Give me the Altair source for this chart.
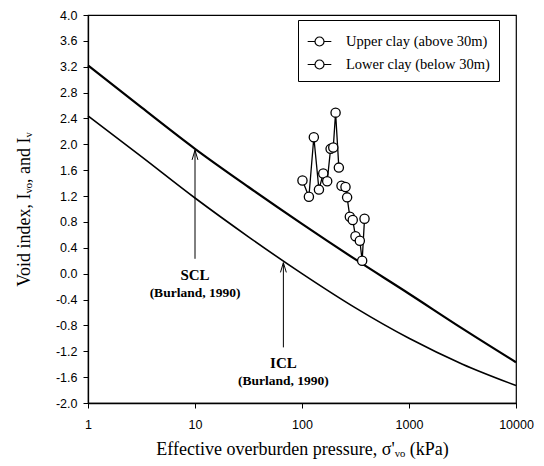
import altair as alt
import pandas as pd

# ---- data ----
upper_sigma = [101, 116, 129, 144, 158, 172, 185, 196, 206, 221]
upper_iv = [1.44, 1.19, 2.11, 1.30, 1.55, 1.43, 1.93, 1.95, 2.49, 1.64]
lower_sigma = [234, 255, 264, 280, 298, 316, 347, 365, 384]
lower_iv = [1.36, 1.34, 1.18, 0.88, 0.83, 0.58, 0.51, 0.20, 0.85]

curve_sigma = [1, 3.16, 10, 31.6, 100, 316, 1000, 3162, 10000]
scl_iv = [3.22, 2.57, 1.93, 1.34, 0.77, 0.22, -0.31, -0.85, -1.37]
icl_iv = [2.44, 1.81, 1.17, 0.57, 0.0, -0.53, -1.0, -1.40, -1.73]

series_names = ["Upper clay (above 30m)", "Lower clay (below 30m)"]

arrow_sigma = [10, 67]
arrow_from = [0.23, -1.14]
arrow_tip = [1.91, 0.17]

label_sigma = [10, 10, 67, 67]
label_iv = [-0.02, -0.30, -1.38, -1.66]
label_text = ["SCL", "(Burland, 1990)", "ICL", "(Burland, 1990)"]
label_size = [15, 13.5, 15, 13.5]

x_ticks = [1, 10, 100, 1000, 10000]
y_ticks = [-2.0, -1.6, -1.2, -0.8, -0.4, 0.0, 0.4, 0.8, 1.2, 1.6, 2.0, 2.4, 2.8, 3.2, 3.6, 4.0]

# ---- tables ----
pts = pd.DataFrame({
    "sigma": upper_sigma + lower_sigma,
    "iv": upper_iv + lower_iv,
    "series": [series_names[0]] * len(upper_sigma) + [series_names[1]] * len(lower_sigma),
})
curves = pd.DataFrame({
    "sigma": curve_sigma * 2,
    "iv": scl_iv + icl_iv,
    "curve": ["SCL"] * len(curve_sigma) + ["ICL"] * len(curve_sigma),
})
arrows = pd.DataFrame({"sigma": arrow_sigma, "y1": arrow_from, "y2": arrow_tip})
labels = pd.DataFrame({"sigma": label_sigma, "iv": label_iv, "text": label_text, "size": label_size})

xscale = alt.Scale(type="log", domain=[1, 10000], nice=False)
yscale = alt.Scale(domain=[-2, 4], nice=False, zero=False)

xaxis = alt.Axis(values=x_ticks, format="d", title="Effective overburden pressure, σ'ᵥₒ (kPa)",
                 grid=False, tickSize=5, labelPadding=10, titlePadding=10, tickCount=20,
                 labelOverlap=False, labelFlush=False)
yaxis = alt.Axis(values=y_ticks, title="Void index, Iᵥₒ, and Iᵥ", grid=False, tickSize=5,
                 labelPadding=6, titlePadding=22, labelOverlap=False, labelFlush=False,
                 labelBound=False, tickCount=40,
                 labelExpr="replace(format(datum.value, '.1f'), '−', '-')")

X = alt.X("sigma:Q", scale=xscale, axis=xaxis)
Y = alt.Y("iv:Q", scale=yscale, axis=yaxis)

scl_line = alt.Chart(curves).transform_filter(alt.datum.curve == "SCL").mark_line(
    color="black", strokeWidth=2.2, interpolate="monotone").encode(x=X, y=Y)
icl_line = alt.Chart(curves).transform_filter(alt.datum.curve == "ICL").mark_line(
    color="black", strokeWidth=1.6, interpolate="monotone").encode(x=X, y=Y)

data_lines = alt.Chart(pts).mark_line(color="black", strokeWidth=1.3).encode(
    x=X, y=Y, detail="series:N", order="sigma:Q")

legend_path = ("M-1,0L-0.38,0M0.38,0L1,0"
               "M-0.38,0A0.38,0.38 0 1,1 0.38,0A0.38,0.38 0 1,1 -0.38,0Z")

data_pts = alt.Chart(pts).mark_point(
    shape="circle", filled=False, fill="white", fillOpacity=1, opacity=1,
    size=85, strokeWidth=1.3).encode(
    x=X, y=Y,
    color=alt.Color("series:N", scale=alt.Scale(domain=series_names, range=["black", "black"]),
                    legend=alt.Legend(title=None, orient="none", legendX=210, legendY=5,
                                      padding=9, rowPadding=3, strokeColor="black",
                                      fillColor="white", symbolType=legend_path,
                                      symbolSize=560, symbolStrokeWidth=1.2,
                                      symbolFillColor="white", symbolStrokeColor="black",
                                      labelFont="Liberation Serif", labelFontSize=14.5,
                                      labelColor="black", labelOffset=14)),
)

arrow_rules = alt.Chart(arrows).mark_rule(color="black", strokeWidth=1).encode(
    x="sigma:Q", y="y1:Q", y2="y2:Q")
arrow_path = "M-0.3,1L0,0L0.3,1"
arrow_heads = alt.Chart(arrows).mark_point(
    shape=arrow_path, filled=False, color="black", size=380, strokeWidth=1, opacity=1).encode(
    x="sigma:Q", y="y2:Q")

texts = alt.Chart(labels).mark_text(font="Liberation Serif", fontWeight="bold", color="black").encode(
    x="sigma:Q", y="iv:Q", text="text:N", size=alt.Size("size:Q", scale=None, legend=None))

chart = alt.layer(
    scl_line, icl_line, arrow_rules, arrow_heads, texts, data_lines, data_pts
).properties(
    width=428, height=388,
    autosize=alt.AutoSizeParams(type="none"),
    padding={"left": 88, "top": 15, "right": 28, "bottom": 63},
    background="white",
).configure_view(
    stroke="black", strokeWidth=1.2
).configure_axis(
    domainColor="black", tickColor="black", labelColor="black", titleColor="black",
    labelFont="Liberation Sans", labelFontSize=12.5, titleFont="Liberation Serif",
    titleFontSize=18, titleFontWeight="normal", domainWidth=1.3, tickWidth=1,
)

chart.save("out.html", embed_options={"renderer": "svg", "actions": False})
